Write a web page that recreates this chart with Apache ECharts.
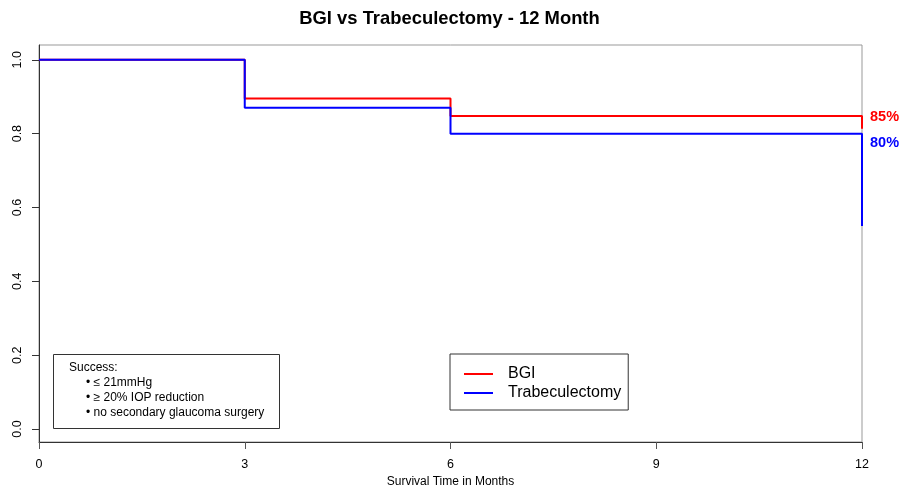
<!DOCTYPE html>
<html>
<head>
<meta charset="utf-8">
<script src="https://cdn.jsdelivr.net/npm/echarts@6/dist/echarts.min.js"></script>
<style>html,body{margin:0;padding:0;background:#fff}#c{width:899px;height:486px}</style>
</head>
<body>
<div id="c"></div>
<script>
// Data
var times = [0, 3, 6, 12];
var bgi = [1.0, 0.895, 0.848, 0.813];
var trab = [1.0, 0.870, 0.800, 0.550];
var seriesNames = ['BGI', 'Trabeculectomy'];
var endLabels = ['85%', '80%'];
var xTicks = [0, 3, 6, 9, 12];
var yTicks = [0.0, 0.2, 0.4, 0.6, 0.8, 1.0];
var criteria = ['Success:', '\u2022 \u2264 21mmHg', '\u2022 \u2265 20% IOP reduction', '\u2022 no secondary glaucoma surgery'];

var FONT = '"Liberation Sans", Arial, Helvetica, sans-serif';
function pairs(xs, ys) { return xs.map(function (x, i) { return [x, ys[i]]; }); }

var chart = echarts.init(document.getElementById('c'), null, { renderer: 'canvas' });
var option = {
  animation: false,
  backgroundColor: '#fff',
  textStyle: { fontFamily: FONT },
  title: {
    text: 'BGI vs Trabeculectomy - 12 Month',
    left: 'center', top: 5,
    textStyle: { fontFamily: FONT, fontSize: 18.4, fontWeight: 'bold', color: '#000' }
  },
  grid: {
    left: 39, right: 37, top: 45, bottom: 44,
    outerBoundsMode: 'none', containLabel: false,
    show: true, borderColor: '#999', borderWidth: 1, backgroundColor: 'transparent'
  },
  xAxis: {
    type: 'value', min: 0, max: 12, interval: 3,
    name: 'Survival Time in Months', nameLocation: 'middle', nameGap: 27,
    nameTextStyle: { fontFamily: FONT, fontSize: 12, color: '#000' },
    axisLine: { show: true, onZero: false, lineStyle: { color: '#333', width: 1 } },
    axisTick: { show: true, length: 7, inside: false, lineStyle: { color: '#555' } },
    axisLabel: { fontFamily: FONT, fontSize: 12.5, color: '#000', margin: 16,
      customValues: xTicks },
    splitLine: { show: false }
  },
  yAxis: {
    type: 'value', min: -0.035, max: 1.04,
    axisLine: { show: true, onZero: false, lineStyle: { color: '#333', width: 1 } },
    axisTick: { show: true, length: 7, customValues: yTicks, lineStyle: { color: '#333' } },
    axisLabel: { fontFamily: FONT, fontSize: 12.5, color: '#000', rotate: 90, margin: 15,
      customValues: yTicks,
      formatter: function (v) { return (Math.round(v * 10) / 10).toFixed(1); } },
    splitLine: { show: false }
  },
  legend: {
    left: 450, top: 354,
    orient: 'vertical',
    data: seriesNames,
    icon: 'rect', itemWidth: 29, itemHeight: 2, itemGap: 3,
    borderColor: '#333', borderWidth: 1,
    padding: [12, 7, 9, 14],
    textStyle: { fontFamily: FONT, fontSize: 16, color: '#000', padding: [0, 0, 0, 10] }
  },
  series: [
    {
      name: seriesNames[0], type: 'line', step: 'end', data: pairs(times, bgi),
      showSymbol: false, symbol: 'none', clip: false,
      lineStyle: { color: '#ff0000', width: 2 }, itemStyle: { color: '#ff0000' }
    },
    {
      name: seriesNames[1], type: 'line', step: 'end', data: pairs(times, trab),
      showSymbol: false, symbol: 'none', clip: false,
      lineStyle: { color: '#0000ff', width: 2 }, itemStyle: { color: '#0000ff' }
    }
  ],
  graphic: [
    { type: 'text', left: 870, top: 109, style: { text: endLabels[0], fill: '#ff0000',
      font: 'bold 14.5px ' + FONT } },
    { type: 'text', left: 870, top: 135, style: { text: endLabels[1], fill: '#0000ff',
      font: 'bold 14.5px ' + FONT } },
    { type: 'rect', left: 53, top: 354, shape: { width: 226, height: 74 },
      style: { fill: 'transparent', stroke: '#333', lineWidth: 1 } },
    { type: 'text', left: 69, top: 362, style: { text: criteria[0], fill: '#000', font: '12px ' + FONT } },
    { type: 'text', left: 86, top: 377, style: { text: criteria[1], fill: '#000', font: '12px ' + FONT } },
    { type: 'text', left: 86, top: 392, style: { text: criteria[2], fill: '#000', font: '12px ' + FONT } },
    { type: 'text', left: 86, top: 407, style: { text: criteria[3], fill: '#000', font: '12px ' + FONT } }
  ]
};
chart.setOption(option);
</script>
</body>
</html>
